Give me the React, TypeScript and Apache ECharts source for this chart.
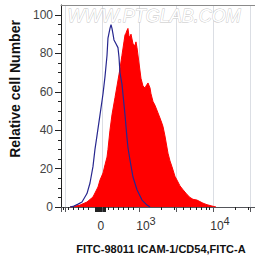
import React, { useEffect, useRef } from "react";
import * as echarts from "echarts";

// x positions are in display decades (biexponential display: 3 = 10^3, 4 = 10^4)
const redX = [2.068, 2.108, 2.203, 2.297, 2.378, 2.446, 2.473, 2.514, 2.541, 2.568, 2.581, 2.608, 2.635, 2.676, 2.703, 2.743, 2.770, 2.797, 2.811, 2.824, 2.838, 2.851, 2.865, 2.878, 2.892, 2.919, 2.946, 2.959, 2.973, 3.000, 3.027, 3.054, 3.081, 3.095, 3.122, 3.149, 3.162, 3.189, 3.216, 3.257, 3.297, 3.324, 3.351, 3.392, 3.419, 3.446, 3.486, 3.514, 3.554, 3.595, 3.649, 3.689, 3.730, 3.784, 3.824, 3.865, 3.919, 3.986, 4.041];
const redY = [0, 0.2, 1, 2.6, 5.2, 10.4, 14, 17.7, 22, 26, 30, 40, 48, 57, 63, 72, 79, 86, 89.6, 90.5, 92, 93, 89, 88.5, 90, 85, 84, 86, 83, 75, 67, 63, 62, 63, 64.6, 62, 59, 55, 53, 49, 45, 42, 37, 28, 24, 21, 16, 14, 11, 9, 6.5, 5, 4, 3.6, 2.8, 2, 1.2, 0.5, 0];

const blueX = [2.068, 2.108, 2.176, 2.230, 2.297, 2.338, 2.378, 2.405, 2.432, 2.473, 2.514, 2.541, 2.568, 2.581, 2.608, 2.622, 2.635, 2.649, 2.662, 2.689, 2.716, 2.730, 2.743, 2.770, 2.811, 2.838, 2.851, 2.878, 2.919, 2.973, 3.041, 3.108, 3.149];
const blueY = [0, 0.3, 1.5, 2.6, 7, 12.5, 21, 30, 37, 48, 59, 68, 79, 88, 93, 95, 93, 90, 87, 85, 83, 78, 70, 64, 48, 36, 31, 24.5, 15.6, 9, 3.6, 1, 0];

const xZeroLabel = [2.486];
const xDecadeLabels = [3, 4];
const xMajorTicks = [2.405, 2.419, 2.432, 2.446, 2.459, 2.473, 2.486, 2.5, 2.514, 2.527, 2.541, 3, 4];
const xMinorTicks = [1.977, 2.045, 2.112, 2.18, 2.247, 2.315, 2.585, 2.653, 2.72, 2.788, 2.855, 2.923,
  3.301, 3.477, 3.602, 3.699, 3.778, 3.845, 3.903, 3.954, 4.301, 4.477];
const yMajorTicks = [0, 20, 40, 60, 80, 100];
const yMinorTicks = [5, 10, 15, 25, 30, 35, 45, 50, 55, 65, 70, 75, 85, 90, 95];

const X_MIN = 1.946;
const X_MAX = 4.568;
const Y_MAX = 105.2;
const FONT = "'Liberation Sans', Arial, Helvetica, sans-serif";

export default function App() {
  const ref = useRef<HTMLDivElement>(null);
  useEffect(() => {
    if (!ref.current) return;
    const chart = echarts.init(ref.current, null, { renderer: "svg" });
    const red = redX.map((x, i) => [x, redY[i]]);
    const blue = blueX.map((x, i) => [x, blueY[i]]);
    const rich = {
      b: { fontSize: 12, lineHeight: 17, verticalAlign: "bottom", color: "#333", fontFamily: FONT },
      s: { fontSize: 11, lineHeight: 17, verticalAlign: "top", color: "#333", fontFamily: FONT },
      p: { width: 14, lineHeight: 17, fontSize: 12 },
    };
    chart.setOption({
      animation: false,
      grid: { left: 61, right: 0, top: 5, bottom: 55 },
      xAxis: [
        {
          type: "value", min: X_MIN, max: X_MAX, position: "bottom",
          axisLine: { show: true, onZero: false, lineStyle: { color: "#222", width: 1 } },
          axisTick: { show: true, length: 5, customValues: xMajorTicks, lineStyle: { color: "#222" } },
          axisLabel: {
            show: true, customValues: xDecadeLabels, margin: 8,
            formatter: (v: number) => `{p| }{b|10}{s|${Math.round(v)}}`,
            rich,
          },
          splitLine: { show: false },
        },
        {
          type: "value", min: X_MIN, max: X_MAX, position: "bottom",
          axisLine: { show: false, onZero: false },
          axisTick: { show: true, length: 3, customValues: xMinorTicks, lineStyle: { color: "#222" } },
          axisLabel: { show: false },
          splitLine: { show: false },
        },
        {
          type: "value", min: X_MIN, max: X_MAX, position: "bottom",
          axisLabel: { customValues: xZeroLabel, formatter: () => "0", fontSize: 12, color: "#333", margin: 13 },
        },
        {
          type: "value", min: X_MIN, max: X_MAX, position: "top",
          axisLine: { show: true, onZero: false, lineStyle: { color: "#8a8a8a", width: 1 } },
          axisTick: { show: false }, axisLabel: { show: false }, splitLine: { show: false },
        },
      ],
      yAxis: [
        {
          type: "value", min: 0, max: Y_MAX, position: "left",
          axisLine: { show: true, onZero: false, lineStyle: { color: "#222", width: 1 } },
          axisTick: { show: true, length: 6, customValues: yMajorTicks, lineStyle: { color: "#222" } },
          axisLabel: { show: true, customValues: yMajorTicks, margin: 8, fontSize: 12, color: "#444", fontFamily: FONT },
          splitLine: { show: false },
        },
        {
          type: "value", min: 0, max: Y_MAX, position: "left",
          axisLine: { show: false, onZero: false },
          axisTick: { show: true, length: 3, customValues: yMinorTicks, lineStyle: { color: "#222" } },
          axisLabel: { show: false }, splitLine: { show: false },
        },
      ],
      series: [
        {
          type: "line", data: red, xAxisIndex: 0, yAxisIndex: 0, showSymbol: false, symbol: "none",
          lineStyle: { color: "#ff0000", width: 1 }, areaStyle: { color: "#ff0000", opacity: 1 }, z: 2,
        },
        {
          type: "line", data: blue, xAxisIndex: 0, yAxisIndex: 0, showSymbol: false, symbol: "none",
          lineStyle: { color: "#27278f", width: 1.2 }, z: 3,
        },
      ],
      graphic: [
        {
          type: "text", left: 67, top: 7, z: 10,
          style: { text: "WWW.PTGLAB.COM", font: `italic 18px ${FONT}`, fill: "#fff", stroke: "#c4c4c4", lineWidth: 0.8 },
        },
        {
          type: "text", x: 15, y: 89, rotation: Math.PI / 2, z: 10,
          style: { text: "Relative cell Number", font: `bold 14px ${FONT}`, fill: "#111", align: "center", verticalAlign: "middle" },
        },
        {
          type: "text", x: 161, y: 249, z: 10,
          style: { text: "FITC-98011 ICAM-1/CD54,FITC-A", font: `bold 11px ${FONT}`, fill: "#111", align: "center", verticalAlign: "middle" },
        },
      ],
    });
    return () => chart.dispose();
  }, []);
  return <div ref={ref} style={{ width: 255, height: 262, position: "absolute", left: 0, top: 0, background: "#fff" }} />;
}
